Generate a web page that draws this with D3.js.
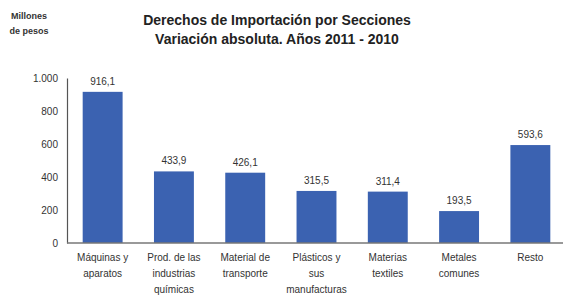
<!DOCTYPE html>
<html>
<head>
<meta charset="utf-8">
<script src="https://cdn.jsdelivr.net/npm/d3@7"></script>
<style>
  body { margin: 0; background: #fff; }
  svg { display: block; font-family: "Liberation Sans", Arial, sans-serif; }
</style>
</head>
<body>
<div id="chart"></div>
<script>
// data
const categories = [
  ["Máquinas y", "aparatos"],
  ["Prod. de las", "industrias", "químicas"],
  ["Material de", "transporte"],
  ["Plásticos y", "sus", "manufacturas"],
  ["Materias", "textiles"],
  ["Metales", "comunes"],
  ["Resto"]
];
const values = [916.1, 433.9, 426.1, 315.5, 311.4, 193.5, 593.6];
const yTicks = [0, 200, 400, 600, 800, 1000];
const titleLines = ["Derechos de Importación por Secciones", "Variación absoluta. Años 2011 - 2010"];
const unitLines = ["Millones", "de pesos"];

const width = 563, height = 296;
const margin = {top: 78, right: -3, bottom: 53, left: 67};

const svg = d3.select("#chart").append("svg")
  .attr("width", width)
  .attr("height", height);

const x = d3.scaleBand()
  .domain(d3.range(values.length))
  .range([margin.left, width - margin.right])
  .paddingInner(0.44)
  .paddingOuter(0.22);

const y = d3.scaleLinear()
  .domain([0, 1000])
  .range([height - margin.bottom, margin.top]);

const fmt = v => d3.format(".1f")(v).replace(".", ",");
const fmtTick = v => d3.format(",")(v).replace(/,/g, ".");

// title
svg.append("g").selectAll("text")
  .data(titleLines)
  .enter().append("text")
  .attr("x", 277)
  .attr("y", (d, i) => 25 + i * 19)
  .attr("text-anchor", "middle")
  .style("font-size", "14px")
  .style("font-weight", "bold")
  .style("fill", "#222")
  .text(d => d);

svg.append("g").selectAll("text")
  .data(unitLines)
  .enter().append("text")
  .attr("x", 29)
  .attr("y", (d, i) => 19 + i * 15)
  .attr("text-anchor", "middle")
  .style("font-size", "9px")
  .style("font-weight", "bold")
  .style("fill", "#333")
  .text(d => d);

// bars
svg.append("g").selectAll("rect")
  .data(values)
  .enter().append("rect")
  .attr("x", (d, i) => x(i))
  .attr("width", x.bandwidth())
  .attr("y", d => y(d))
  .attr("height", d => y(0) - y(d))
  .attr("fill", "#3b62b1");

// value labels
svg.append("g").selectAll("text")
  .data(values)
  .enter().append("text")
  .attr("x", (d, i) => x(i) + x.bandwidth() / 2)
  .attr("y", d => y(d) - 7)
  .attr("text-anchor", "middle")
  .style("font-size", "10px")
  .style("fill", "#333")
  .text(d => fmt(d));

// y axis
const yAxis = svg.append("g")
  .attr("transform", "translate(" + margin.left + ",0)")
  .call(d3.axisLeft(y).tickValues(yTicks).tickSize(0).tickPadding(9).tickFormat(fmtTick));
yAxis.select(".domain").attr("stroke", "#555").attr("stroke-width", 1.2);
yAxis.selectAll("text").style("font-size", "10px").style("fill", "#333")
  .style("font-family", "'Liberation Sans', Arial, sans-serif");

// x axis baseline
svg.append("line")
  .attr("x1", margin.left)
  .attr("x2", width)
  .attr("y1", y(0))
  .attr("y2", y(0))
  .attr("stroke", "#777")
  .attr("stroke-width", 1.5);

// category labels
const cat = svg.append("g").selectAll("text")
  .data(categories)
  .enter().append("text")
  .attr("x", (d, i) => x(i) + x.bandwidth() / 2)
  .attr("y", y(0) + 18)
  .attr("text-anchor", "middle")
  .style("font-size", "10px")
  .style("fill", "#333");

cat.selectAll("tspan")
  .data(d => d)
  .enter().append("tspan")
  .attr("x", function() { return d3.select(this.parentNode).attr("x"); })
  .attr("dy", (d, i) => i === 0 ? 0 : 16)
  .text(d => d);
</script>
</body>
</html>
